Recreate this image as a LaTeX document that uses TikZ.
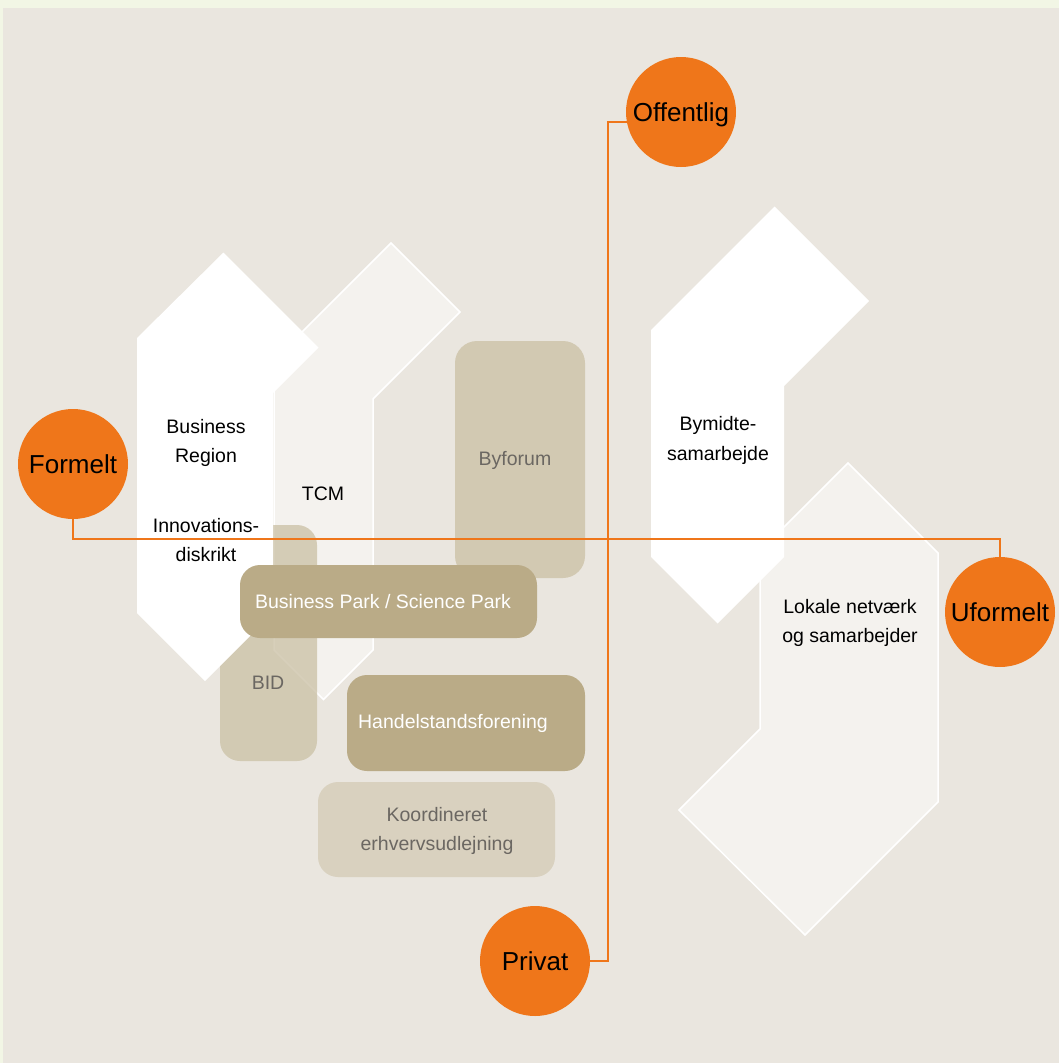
\documentclass[tikz,border=0pt]{standalone}
\usepackage{fontspec}
\setmainfont{Liberation Sans}
\definecolor{outerbg}{HTML}{F2F6E5}
\definecolor{innerbg}{HTML}{EAE6DF}
\definecolor{orng}{HTML}{EF761A}
\definecolor{pale}{HTML}{F4F2EE}
\definecolor{darktan}{HTML}{BAAB87}
\definecolor{midtan}{HTML}{D2C9B2}
\definecolor{bidtan}{HTML}{CDC3A9}
\definecolor{lighttan}{HTML}{D9D1BF}
\definecolor{greytext}{HTML}{6B6762}
\pgfdeclarelayer{back}
\pgfdeclarelayer{lines}
\pgfsetlayers{back,lines,main}
\tikzset{
  paleshape/.style={fill=pale, draw=white, line width=1.5pt, line join=miter},
  whiteshape/.style={fill=white},
  tanbox/.style={rounded corners=20pt, inner sep=0pt},
  lbl/.style={font=\fontsize{19.5}{29.5}\selectfont, align=center, inner sep=0pt},
  hub/.style={circle, fill=orng, minimum size=110pt, inner sep=0pt, text depth=0pt, font=\fontsize{26}{30}\selectfont, text=black},
  conn/.style={draw=orng, line width=2.9pt, line join=miter}
}
\begin{document}
\begin{tikzpicture}[x=1pt,y=-1pt]
\useasboundingbox (0,0) rectangle (1059,1063);
\begin{pgfonlayer}{back}
\fill[outerbg] (0,0) rectangle (1059,1063);
\fill[innerbg] (3,8) rectangle (1059,1063);
% Lokale netvaerk shape
\filldraw[paleshape] (760,551) -- (848,463) -- (938,553) -- (938,802) -- (805,935) -- (679,810) -- (760,729) -- cycle;
% Bymidte shape
\fill[whiteshape] (651,330) -- (774.5,206.5) -- (869,301) -- (784,386) -- (784,557) -- (717.5,623.5) -- (651,557) -- cycle;
% TCM shape
\filldraw[paleshape] (274,360) -- (391,243) -- (460,312) -- (373,399) -- (373,650) -- (323.5,699.5) -- (274,650) -- cycle;
% BID box
\node[tanbox, fill=bidtan, fill opacity=0.8, minimum width=97pt, minimum height=236pt] (bidbox) at (268.5,643) {};
% Business Region shape
\fill[whiteshape] (137,338) -- (223.5,252.5) -- (318.5,347.5) -- (273,393) -- (273,613) -- (205,681) -- (137,613) -- cycle;
% boxes
\node[tanbox, rounded corners=22pt, fill=midtan, minimum width=130pt, minimum height=237pt] (byforumbox) at (520,459.5) {};
\node[tanbox, fill=darktan, minimum width=297pt, minimum height=73pt] (bparkbox) at (388.5,601.5) {};
\node[tanbox, fill=darktan, minimum width=238pt, minimum height=96pt] (handelbox) at (466,723) {};
\node[tanbox, fill=lighttan, minimum width=237pt, minimum height=95pt] (koordbox) at (436.5,829.5) {};
\end{pgfonlayer}
% labels
\node[lbl] (brtext) at (206,443) {Business\\Region};
\node[lbl] (tcmtext) at (323,494) {TCM};
\node[lbl] (innotext) at (206,540) {Innovations-\\diskrikt};
\node[lbl, text=greytext] (byforumtext) at (515,460) {Byforum};
\node[lbl, text=white] (bparktext) at (383,602) {Business Park / Science Park};
\node[lbl, text=greytext] (bidtext) at (268,683) {BID};
\node[lbl, text=white] (handeltext) at (453,723) {Handelstandsforening};
\node[lbl, text=greytext] (koordtext) at (437,831) {Koordineret\\erhvervsudlejning};
\node[lbl] (bymidtetext) at (718,440.5) {Bymidte-\\samarbejde};
\node[lbl] (lokaletext) at (850,623) {Lokale netværk\\og samarbejder};
% hubs
\node[hub] (offentlig) at (681,112) {Offentlig};
\node[hub] (formelt) at (73,464) {Formelt};
\node[hub] (uformelt) at (1000,612) {Uformelt};
\node[hub] (privat) at (535,961) {Privat};
\begin{pgfonlayer}{lines}
\coordinate (vtop) at (608,122);
\coordinate (hleft) at (73,539);
\draw[conn] ([yshift=-10pt]offentlig.center) -- (vtop) |- (privat.center);
\draw[conn] (formelt.center) -- (hleft) -| (uformelt.center);
\end{pgfonlayer}
\end{tikzpicture}
\end{document}
